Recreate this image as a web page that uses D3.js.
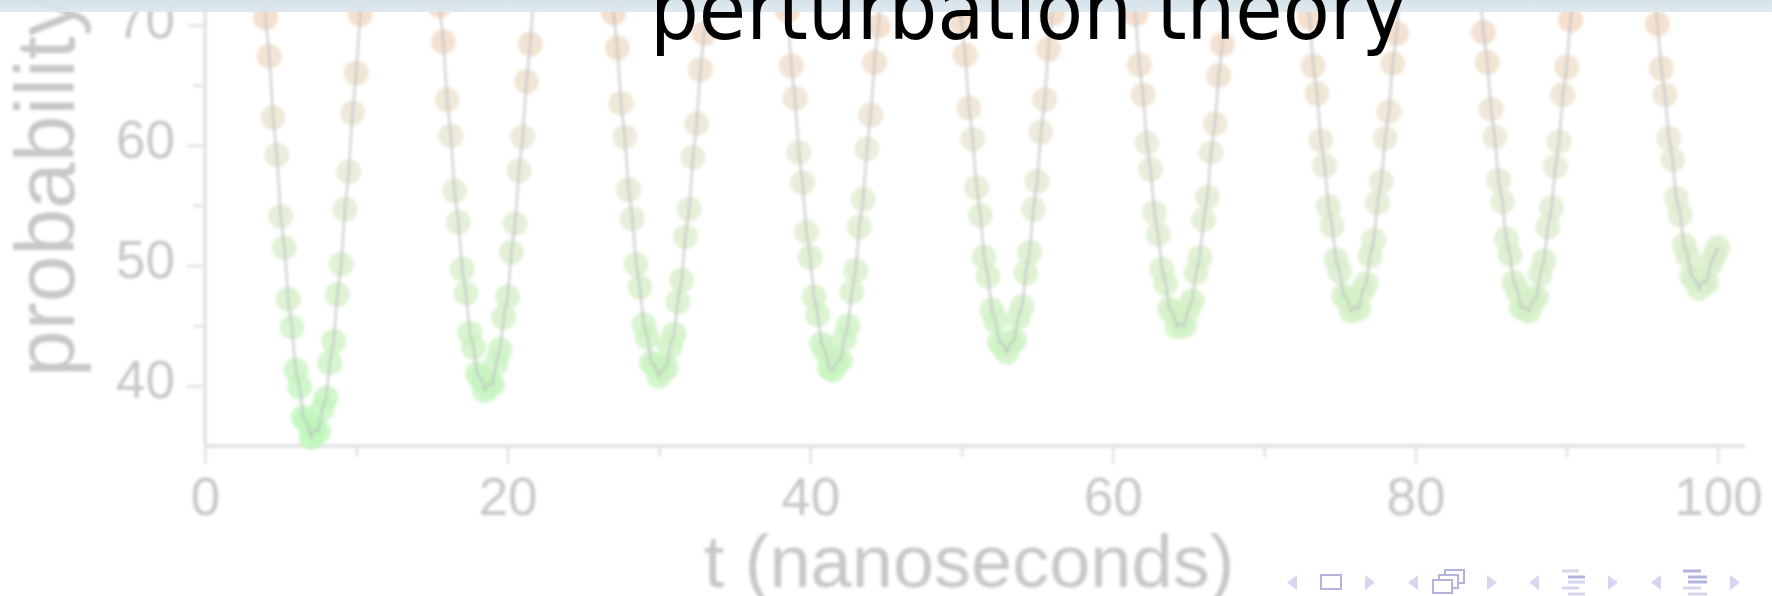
<!DOCTYPE html>
<html><head><meta charset="utf-8">
<script src="https://cdn.jsdelivr.net/npm/d3@7"></script>
<style>html,body{margin:0;padding:0;background:#fff;overflow:hidden}svg{display:block}</style>
</head><body>
<svg id="c" width="1772" height="596"></svg>
<script>
// ---- data ----
const tStart = 0;          // ns
const tStep = 0.25;        // ns between samples
const probability = [
 88.3, 91.1, 93.3, 95.0, 96.2, 96.9, 97.0, 96.5, 95.4, 93.8, 91.7, 89.1, 86.1, 82.8, 79.1, 75.2,
 70.6, 67.4, 62.3, 59.2, 54.1, 51.5, 47.2, 44.9, 41.3, 39.9, 37.4, 37.0, 35.7, 36.4, 36.2, 38.1, 39.0, 41.9, 43.7, 47.6, 50.1, 54.7, 57.8, 62.7, 66.0, 70.9,
 74.7, 78.6, 82.3, 85.8, 88.8, 91.4, 93.6, 95.3, 96.4, 96.9,
 96.7, 96.2, 95.1, 93.5, 91.5, 89.0, 86.1, 82.9, 79.5, 75.8,
 71.6, 68.6, 63.8, 60.8, 56.2, 53.6, 49.7, 47.7, 44.4, 43.2, 41.0, 40.6, 39.6, 40.2, 40.1, 41.9, 43.0, 45.7, 47.4, 51.1, 53.5, 57.9, 60.7, 65.3, 68.4, 72.9,
 76.5, 80.2, 83.6, 86.8, 89.6, 92.0, 93.9, 95.4, 96.3, 96.8,
 95.9, 95.3, 94.2, 92.6, 90.5, 88.1, 85.2, 82.1, 78.7, 75.1,
 71.0, 68.1, 63.5, 60.7, 56.3, 53.9, 50.1, 48.2, 45.1, 44.0, 41.9, 41.7, 40.8, 41.4, 41.5, 43.3, 44.3, 47.0, 48.8, 52.4, 54.7, 59.0, 61.8, 66.3, 69.3,
 73.4, 77.0, 80.5, 83.8, 86.8, 89.4, 91.7, 93.5, 94.8, 95.7, 96.0,
 95.3, 94.6, 93.5, 91.8, 89.8, 87.3, 84.5, 81.4, 78.0, 74.4,
 71.2, 66.6, 63.9, 59.4, 56.9, 52.8, 50.7, 47.4, 45.9, 43.5, 42.9, 41.5, 41.3, 42.0, 42.1, 43.9, 45.0, 47.8, 49.6, 53.2, 55.5, 59.7, 62.5, 66.9, 69.9,
 73.9, 77.4, 80.8, 84.0, 86.9, 89.4, 91.5, 93.2, 94.5, 95.2, 95.5,
 94.8, 94.0, 92.8, 91.2, 89.1, 86.7, 83.9, 80.9, 77.6, 74.2,
 70.2, 67.5, 63.1, 60.5, 56.5, 54.2, 50.7, 49.1, 46.3, 45.4, 43.6, 43.5, 42.8, 43.6, 43.8, 45.7, 46.6, 49.4, 51.1, 54.7, 57.0, 61.1, 63.8, 68.0, 70.9,
 74.7, 78.1, 81.4, 84.4, 87.1, 89.5, 91.5, 93.1, 94.2, 94.8,
 94.0, 93.7, 92.9, 91.7, 90.1, 88.1, 85.8, 83.1, 80.2, 77.1, 73.8,
 70.9, 66.7, 64.2, 60.2, 58.0, 54.4, 52.6, 49.7, 48.5, 46.4, 46.0, 44.9, 45.2, 45.0, 46.4, 47.1, 49.4, 50.7, 53.8, 55.7, 59.4, 61.8, 65.8, 68.4, 72.3,
 75.4, 78.6, 81.6, 84.4, 86.9, 89.1, 90.9, 92.4, 93.4, 93.9,
 93.3, 92.9, 92.1, 90.9, 89.3, 87.3, 85.0, 82.4, 79.6, 76.6, 73.5,
 70.6, 66.6, 64.3, 60.4, 58.3, 54.9, 53.3, 50.5, 49.5, 47.5, 47.2, 46.2, 46.6, 46.4, 47.9, 48.5, 50.8, 52.1, 55.2, 57.0, 60.6, 62.8, 66.8, 69.3, 73.0,
 76.0, 79.0, 81.9, 84.5, 86.9, 88.9, 90.6, 91.9, 92.8, 93.2,
 93.3, 92.8, 92.0, 90.7, 89.0, 87.0, 84.6, 82.0, 79.1, 76.1, 73.0,
 69.4, 66.9, 63.0, 60.7, 57.1, 55.3, 52.2, 50.9, 48.6, 47.9, 46.5, 46.6, 46.2, 47.1, 47.4, 49.3, 50.4, 53.2, 54.8, 58.2, 60.3, 64.2, 66.5, 70.4,
 73.3, 76.5, 79.5, 82.3, 84.9, 87.2, 89.2, 90.9, 92.1, 92.9, 93.3,
 92.2, 91.7, 90.9, 89.6, 88.0, 86.1, 83.8, 81.3, 78.6, 75.7,
 72.5, 70.1, 66.4, 64.2, 60.6, 58.8, 55.6, 54.2, 51.7, 50.8, 49.1, 48.9, 48.1, 48.7, 48.6, 50.1, 50.8, 51.5
];
const xTickValues = [0, 20, 40, 60, 80, 100];
const xMinorTickValues = [10, 30, 50, 70, 90];
const yTickValues = [40, 50, 60, 70];
const yMinorTickValues = [45, 55, 65];
const titleText = "perturbation theory";
const xLabelText = "t (nanoseconds)";
const yLabelText = "probability";

// ---- scales ----
const x = d3.scaleLinear().domain([0, 100]).range([205, 1718]);
const y = d3.scaleLinear().domain([35, 70]).range([446, 25]);
const color = d3.scaleLinear().domain([36, 48, 60, 72])
  .range(["#bff7bc", "#d6f0c8", "#e8e8d4", "#f4d6c1"]);

const pts = probability.map((v, i) => ({t: tStart + i * tStep, v}));

const svg = d3.select("#c");
const defs = svg.append("defs");
defs.append("filter").attr("id", "soft")
  .attr("x", "-5%").attr("y", "-5%").attr("width", "110%").attr("height", "110%")
  .append("feGaussianBlur").attr("stdDeviation", 1.7);
defs.append("clipPath").attr("id", "plotclip").append("rect")
  .attr("x", 195).attr("y", 0).attr("width", 1560).attr("height", 452);

const chart = svg.append("g").attr("filter", "url(#soft)");
const AX = "#e0e0e0", TXT = "#c8c8c8";

// axes lines
chart.append("line").attr("x1", x(0)).attr("x2", x(101.8)).attr("y1", y(35)).attr("y2", y(35))
  .attr("stroke", AX).attr("stroke-width", 3.5);
chart.append("line").attr("x1", x(0)).attr("x2", x(0)).attr("y1", y(35)).attr("y2", 0)
  .attr("stroke", AX).attr("stroke-width", 3.5);

// x axis ticks
const xAxis = chart.append("g").attr("transform", `translate(0,${y(35)})`)
  .call(d3.axisBottom(x).tickValues(xTickValues).tickSize(18).tickPadding(13).tickFormat(d3.format("d")));
chart.append("g").attr("transform", `translate(0,${y(35)})`)
  .call(d3.axisBottom(x).tickValues(xMinorTickValues).tickSize(11).tickFormat(""))
  .call(g => g.select(".domain").remove());
// y axis ticks
const yAxis = chart.append("g").attr("transform", `translate(${x(0)},0)`)
  .call(d3.axisLeft(y).tickValues(yTickValues).tickSize(18).tickPadding(12).tickFormat(d3.format("d")));
chart.append("g").attr("transform", `translate(${x(0)},0)`)
  .call(d3.axisLeft(y).tickValues(yMinorTickValues).tickSize(12).tickFormat(""))
  .call(g => g.select(".domain").remove());

chart.selectAll(".domain").remove();
chart.selectAll(".tick line").attr("stroke", AX).attr("stroke-width", 2.5);
chart.selectAll(".tick text").attr("fill", TXT)
  .attr("font-family", "Liberation Sans, Arial, sans-serif").attr("font-size", 53);
yAxis.selectAll(".tick text").attr("dy", null).attr("y", 12);
xAxis.selectAll(".tick text").attr("dy", null).attr("y", 69);

// axis labels
chart.append("text").text(xLabelText)
  .attr("x", 969).attr("y", 587).attr("text-anchor", "middle")
  .attr("font-family", "Liberation Sans, Arial, sans-serif").attr("font-size", 74).attr("fill", TXT);
chart.append("text").text(yLabelText)
  .attr("transform", "translate(74,377) rotate(-90)").attr("text-anchor", "start")
  .attr("font-family", "Liberation Sans, Arial, sans-serif").attr("font-size", 84).attr("fill", TXT);

// data
const plot = chart.append("g").attr("clip-path", "url(#plotclip)");
plot.selectAll("circle").data(pts.filter(d => d.v < 76)).join("circle")
  .attr("cx", d => x(d.t)).attr("cy", d => y(d.v)).attr("r", 12.5)
  .attr("fill", d => color(d.v)).attr("fill-opacity", 0.8);
plot.append("path").datum(pts)
  .attr("d", d3.line().x(d => x(d.t)).y(d => y(d.v)))
  .attr("fill", "none").attr("stroke", "#bcbcc2").attr("stroke-width", 2.2).attr("stroke-opacity", 0.75);

// frame title band
const grad = defs.append("linearGradient").attr("id", "band").attr("x1", 0).attr("x2", 0).attr("y1", 0).attr("y2", 1);
grad.append("stop").attr("offset", "0%").attr("stop-color", "#d3e1ea");
grad.append("stop").attr("offset", "100%").attr("stop-color", "#dde8ee");
svg.append("rect").attr("x", 0).attr("y", 0).attr("width", 1772).attr("height", 12)
  .attr("fill", "url(#band)").attr("opacity", 0.92);

svg.append("text").text(titleText)
  .attr("x", 650).attr("y", 39)
  .attr("textLength", 757).attr("lengthAdjust", "spacingAndGlyphs")
  .attr("font-family", "DejaVu Sans, sans-serif").attr("font-size", 84).attr("fill", "#000");

// beamer navigation symbols
const nav = svg.append("g");
const LT = "#d6d6ef", DK = "#b3b3de";
function triL(x0){ nav.append("path").attr("d", `M${x0+10},575 L${x0},582.5 L${x0+10},590 Z`).attr("fill", LT); }
function triR(x0){ nav.append("path").attr("d", `M${x0},575 L${x0+10},582.5 L${x0},590 Z`).attr("fill", LT); }
triL(1287); triR(1365); triL(1408); triR(1487); triL(1529); triR(1608); triL(1651); triR(1730);
nav.append("rect").attr("x", 1321).attr("y", 575).attr("width", 20).attr("height", 14)
  .attr("fill", "none").attr("stroke", DK).attr("stroke-width", 2);
[[1445,570],[1439,575],[1433,580]].forEach(([a,b]) =>
  nav.append("rect").attr("x", a).attr("y", b).attr("width", 19).attr("height", 13)
    .attr("fill", "#fff").attr("stroke", DK).attr("stroke-width", 2));
const bars3 = [[1562,1579,571,LT],[1568,1585,577,DK],[1568,1585,582,LT],[1562,1579,588,LT],[1568,1585,594,LT]];
const bars4 = [[1683,1701,571,DK],[1688,1707,577,DK],[1688,1707,582,DK],[1683,1701,588,LT],[1688,1707,594,LT]];
bars3.concat(bars4).forEach(([a,b,c,col]) =>
  nav.append("line").attr("x1", a).attr("x2", b).attr("y1", c).attr("y2", c).attr("stroke", col).attr("stroke-width", 3));
</script>
</body></html>
